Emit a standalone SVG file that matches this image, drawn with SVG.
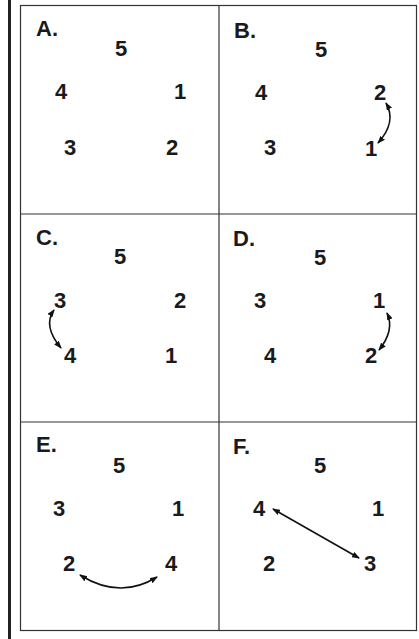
<svg xmlns="http://www.w3.org/2000/svg" width="419" height="639" viewBox="0 0 419 639">
<defs>
<marker id="ah" viewBox="0 0 8 6" refX="7" refY="3" markerWidth="8" markerHeight="6" markerUnits="userSpaceOnUse" orient="auto-start-reverse">
<path d="M0,0 L8,3 L0,6 z" fill="#111"/>
</marker>
<style>
.t{font-family:"Liberation Sans",Arial,sans-serif;font-weight:bold;font-size:22px;fill:#1a1a1a;text-anchor:middle}
.l{font-family:"Liberation Sans",Arial,sans-serif;font-weight:bold;font-size:22px;fill:#1a1a1a}
.g{stroke:#333;stroke-width:1.2;fill:none}
.c{stroke:#111;stroke-width:1.6;fill:none;marker-start:url(#ah);marker-end:url(#ah)}
</style>
</defs>
<rect width="419" height="639" fill="#fff"/>
<rect x="8" y="0" width="3" height="639" fill="#222"/>
<g id="grid" class="g">
<rect x="20.5" y="5.5" width="396" height="625"/>
<line x1="219" y1="5.5" x2="219" y2="630.5"/>
<line x1="20.5" y1="214" x2="416.5" y2="214"/>
<line x1="20.5" y1="422" x2="416.5" y2="422"/>
</g>
<g id="panelA">
<text class="l" x="36" y="36">A.</text>
<text class="t" x="121" y="56">5</text>
<text class="t" x="61" y="99">4</text>
<text class="t" x="180" y="99">1</text>
<text class="t" x="70" y="155">3</text>
<text class="t" x="172" y="155">2</text>
</g>
<g id="panelB">
<text class="l" x="234" y="38">B.</text>
<text class="t" x="321" y="57">5</text>
<text class="t" x="261" y="100">4</text>
<text class="t" x="380" y="100">2</text>
<text class="t" x="270" y="155">3</text>
<text class="t" x="371" y="156">1</text>
</g>
<g id="panelC">
<text class="l" x="36" y="245">C.</text>
<text class="t" x="120" y="264">5</text>
<text class="t" x="60" y="308">3</text>
<text class="t" x="180" y="308">2</text>
<text class="t" x="70" y="363">4</text>
<text class="t" x="171" y="363">1</text>
</g>
<g id="panelD">
<text class="l" x="233" y="246">D.</text>
<text class="t" x="320" y="265">5</text>
<text class="t" x="260" y="308">3</text>
<text class="t" x="379" y="308">1</text>
<text class="t" x="270" y="363">4</text>
<text class="t" x="371" y="363">2</text>
</g>
<g id="panelE">
<text class="l" x="36" y="452">E.</text>
<text class="t" x="119" y="473">5</text>
<text class="t" x="59" y="516">3</text>
<text class="t" x="178" y="516">1</text>
<text class="t" x="69" y="571">2</text>
<text class="t" x="171" y="571">4</text>
</g>
<g id="panelF">
<text class="l" x="233" y="454">F.</text>
<text class="t" x="320" y="473">5</text>
<text class="t" x="259" y="516">4</text>
<text class="t" x="378" y="516">1</text>
<text class="t" x="269" y="571">2</text>
<text class="t" x="370" y="571">3</text>
</g>
<g id="connectors">
<path class="c" d="M386,103 Q397,122 378,143"/>
<path class="c" d="M54,310 Q42.5,326 61,348"/>
<path class="c" d="M387,313 Q395,330 379,350"/>
<path class="c" d="M80,575 Q120,600 157,577"/>
<path class="c" d="M273,509 L359,558"/>
</g>
</svg>
